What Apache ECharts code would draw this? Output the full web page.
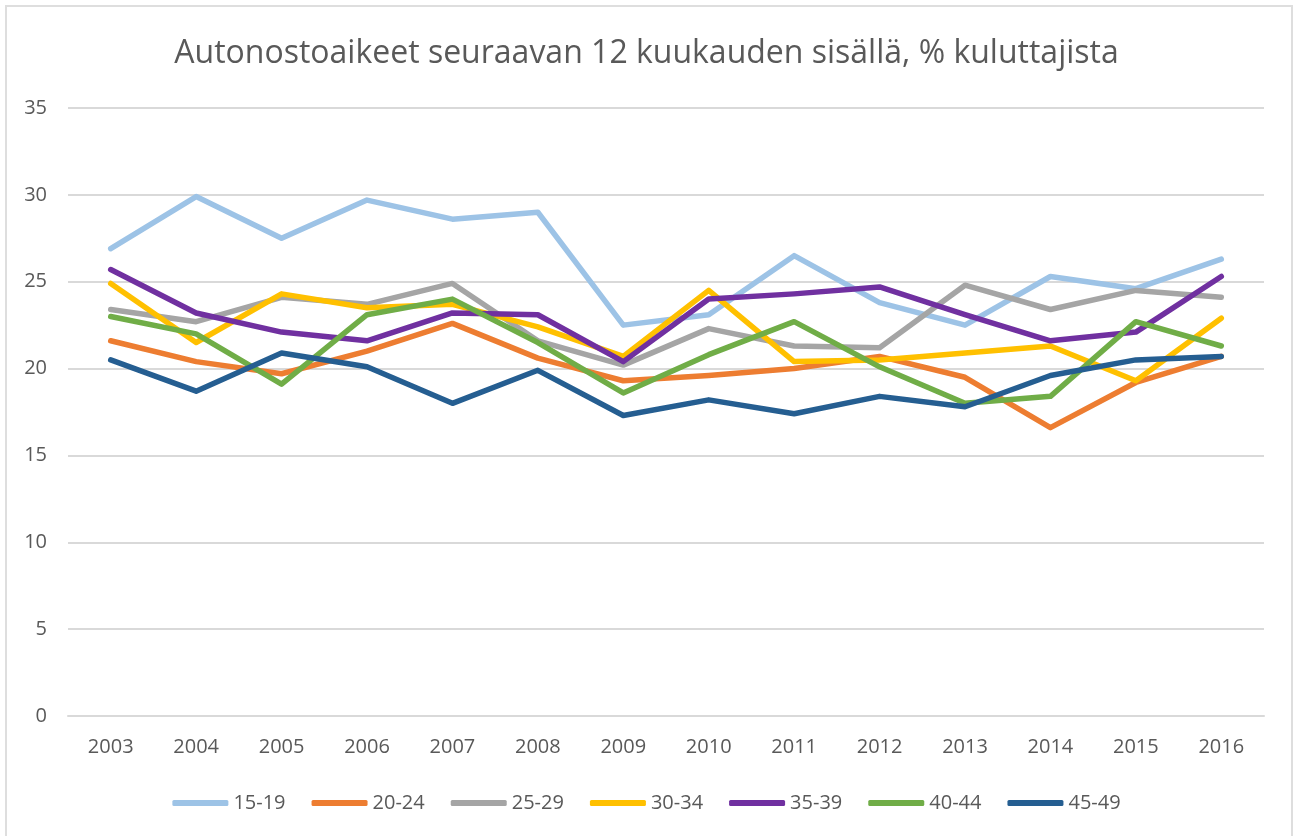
<!DOCTYPE html>
<html>
<head>
<meta charset="utf-8">
<script src="https://cdn.jsdelivr.net/npm/echarts@6/dist/echarts.min.js"></script>
<style>
  html, body { margin: 0; padding: 0; background: #fff; overflow: hidden; }
  #chart { position: absolute; left: 0; top: 0; width: 1293px; height: 836px; }
  #frame { position: absolute; left: 5px; top: 5px; width: 1284px; height: 900px;
           border: 2px solid #dedede; pointer-events: none; }
</style>
</head>
<body>
<div id="chart"></div>
<div id="frame"></div>
<script>
// vuodet ja ikäryhmät
const years = ['2003','2004','2005','2006','2007','2008','2009','2010','2011','2012','2013','2014','2015','2016'];
const groups = ['15-19','20-24','25-29','30-34','35-39','40-44','45-49'];
const colors = ['#9DC3E6','#ED7D31','#A5A5A5','#FFC000','#7030A0','#70AD47','#255E91'];

const g15_19 = [26.9, 29.9, 27.5, 29.7, 28.6, 29.0, 22.5, 23.1, 26.5, 23.8, 22.5, 25.3, 24.6, 26.3];
const g20_24 = [21.6, 20.4, 19.7, 21.0, 22.6, 20.6, 19.3, 19.6, 20.0, 20.7, 19.5, 16.6, 19.2, 20.7];
const g25_29 = [23.4, 22.7, 24.1, 23.7, 24.9, 21.6, 20.2, 22.3, 21.3, 21.2, 24.8, 23.4, 24.5, 24.1];
const g30_34 = [24.9, 21.5, 24.3, 23.5, 23.7, 22.4, 20.7, 24.5, 20.4, 20.5, 20.9, 21.3, 19.3, 22.9];
const g35_39 = [25.7, 23.2, 22.1, 21.6, 23.2, 23.1, 20.4, 24.0, 24.3, 24.7, 23.1, 21.6, 22.1, 25.3];
const g40_44 = [23.0, 22.0, 19.1, 23.1, 24.0, 21.5, 18.6, 20.8, 22.7, 20.1, 18.0, 18.4, 22.7, 21.3];
const g45_49 = [20.5, 18.7, 20.9, 20.1, 18.0, 19.9, 17.3, 18.2, 17.4, 18.4, 17.8, 19.6, 20.5, 20.7];
const values = [g15_19, g20_24, g25_29, g30_34, g35_39, g40_44, g45_49];

const font = 'Open Sans';
const chart = echarts.init(document.getElementById('chart'));

chart.setOption({
  animation: false,
  color: colors,
  title: {
    text: 'Autonostoaikeet seuraavan 12 kuukauden sisällä, % kuluttajista',
    left: 'center',
    top: 33,
    textStyle: { fontFamily: font, fontSize: 32, fontWeight: 'normal', color: '#595959' }
  },
  legend: {
    bottom: 18,
    left: 'center',
    itemWidth: 56,
    itemHeight: 6,
    itemGap: 26,
    icon: 'roundRect',
    textStyle: { fontFamily: font, fontSize: 20, color: '#595959' },
    data: groups
  },
  grid: { left: 68, right: 29, top: 108, bottom: 120 },
  xAxis: {
    type: 'category',
    data: years,
    boundaryGap: true,
    axisLine: { lineStyle: { color: '#d9d9d9', width: 2 } },
    axisTick: { show: false },
    axisLabel: { fontFamily: font, fontSize: 20, color: '#595959', margin: 21 }
  },
  yAxis: {
    type: 'value',
    min: 0,
    max: 35,
    interval: 5,
    axisLine: { show: false },
    axisTick: { show: false },
    axisLabel: { fontFamily: font, fontSize: 20, color: '#595959', margin: 21 },
    splitLine: { lineStyle: { color: '#d9d9d9', width: 2 } }
  },
  series: groups.map((name, i) => ({
    name: name,
    type: 'line',
    data: values[i],
    symbol: 'none',
    lineStyle: { width: 5.5, cap: 'round', join: 'round' }
  }))
});
</script>
</body>
</html>
